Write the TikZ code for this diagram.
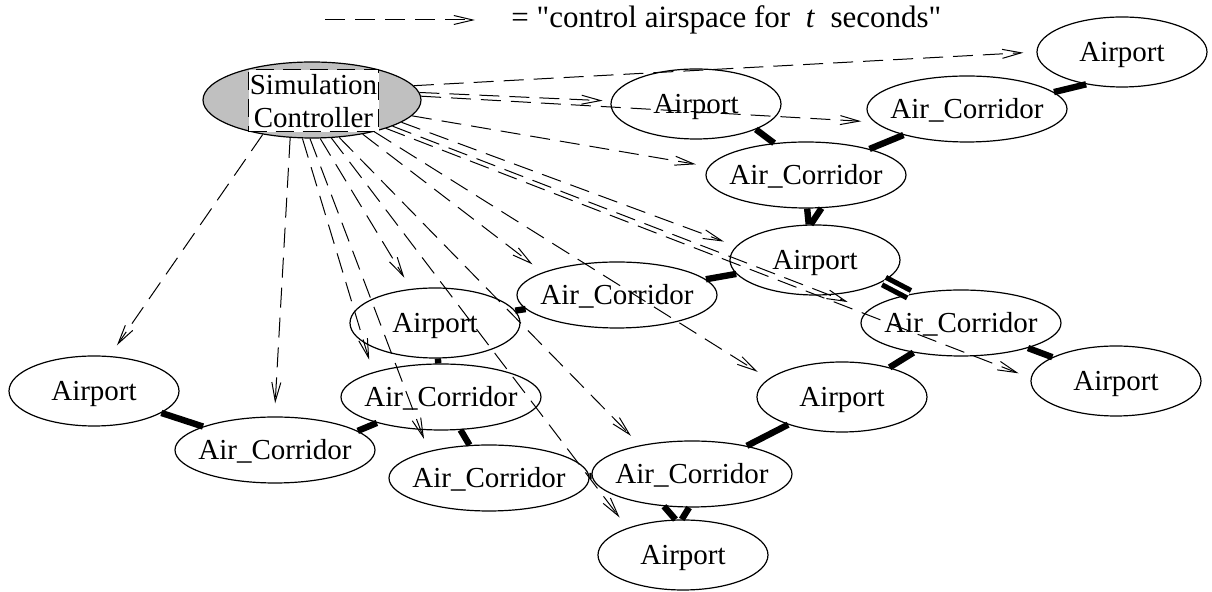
\documentclass[tikz,border=0pt]{standalone}
\usepackage{fontspec}
\setmainfont{Liberation Serif}[Ligatures=TeXOff]
\usetikzlibrary{arrows.meta,shapes.geometric}
\definecolor{ctrlgray}{RGB}{192,192,192}
% text set in a zero-width box so the ellipse keeps its own size
\newcommand{\ntx}[1]{\makebox[0pt]{#1}}
\begin{document}
\begin{tikzpicture}[x=0.5pt, y=-0.5pt,
  place/.style={ellipse, draw, line width=0.6pt, inner sep=0pt,
    text height=9.6pt, text depth=0pt, font=\fontsize{14.5}{16.5}\selectfont},
  airport/.style={place, minimum width=85pt, minimum height=35pt},
  corridor/.style={place, minimum width=100pt, minimum height=33pt},
  link/.style={line width=3.2pt},
  dbllink/.style={line width=2.6pt, double=white, double distance=1.5pt},
  ctl/.style={line width=0.5pt, dash pattern=on 10pt off 5pt,
    -{Straight Barb[length=9.5pt,width=4.5pt]}, shorten >=6.5pt},
]
\useasboundingbox (0,0) rectangle (1212,592);

% legend
\coordinate (legA) at (325,20);
\coordinate (legB) at (475,20);
\draw[ctl, shorten >=0pt] (legA) -- (legB);
\node[anchor=base west, inner sep=0pt, font=\fontsize{15.5}{17}\selectfont]
  (legtext) at (511,28) {= "control airspace for\ \ \textit{t}\ \ seconds"};

% controller
\node[ellipse, draw, line width=0.6pt, fill=ctrlgray, inner sep=0pt,
  minimum width=109pt, minimum height=38pt] (ctrl) at (312,100) {};
\node[draw, fill=white, line width=0.5pt, dash pattern=on 9pt off 4.5pt,
  minimum width=65pt, minimum height=31pt, inner sep=0.5pt, align=center,
  font=\fontsize{14.5}{16.5}\selectfont] (ctrlbox) at (313.5,101) {Simulation\\Controller};

% airports and corridors
\node[airport]  (apTR)  at (1122,52)  {\ntx{Airport}};
\node[corridor] (acTR)  at (967,109)  {\ntx{Air\_Corridor}};
\node[airport]  (apUp)  at (696,104)  {\ntx{Airport}};
\node[corridor] (acMid) at (806,175)  {\ntx{Air\_Corridor}};
\node[airport]  (apC)   at (815,260)  {\ntx{Airport}};
\node[corridor] (acR)   at (961,323)  {\ntx{Air\_Corridor}};
\node[airport]  (apFR)  at (1116,381) {\ntx{Airport}};
\node[airport]  (apML)  at (842,397)  {\ntx{Airport}};
\node[corridor] (acBC)  at (692,474)  {\ntx{Air\_Corridor}};
\node[airport]  (apB)   at (683,555)  {\ntx{Airport}};
\node[corridor] (acL2)  at (489,478)  {\ntx{Air\_Corridor}};
\node[corridor] (acMLf) at (441,397)  {\ntx{Air\_Corridor}};
\node[airport]  (apMLf) at (435,323)  {\ntx{Airport}};
\node[corridor] (acCLU) at (617,295)  {\ntx{Air\_Corridor}};
\node[airport]  (apFL)  at (94,391)   {\ntx{Airport}};
\node[corridor] (acBL)  at (275,450)  {\ntx{Air\_Corridor}};

% network links
\draw[link] (apTR.-138) -- (acTR.11);
\draw[link] (acTR) -- (acMid);
\draw[link] (apUp.-23) -- (acMid.135);
\draw[link] (acMid.-88) -- (apC.100);
\draw[link] (acMid.-65) -- (apC.97);
\draw[dbllink] (apC.-17) -- (acR.151);
\draw[link] (apC) -- (acCLU);
\draw[link] (acR) -- (apFR);
\draw[link] (acR) -- (apML);
\draw[link] (apML) -- (acBC);
\draw[link] (acBC.-131) -- (apB.102);
\draw[link] (acBC.-95) -- (apB.92);
\draw[link] (acCLU) -- (apMLf);
\draw[link] (apMLf) -- (acMLf);
\draw[link] (acMLf.-158) -- (acBL.13);
\draw[link] (acMLf) -- (acL2);
\draw[link] (apFL) -- (acBL);
\draw[link] (acL2) -- (acBC);

% control arrows
\draw[ctl] (ctrl.8) -- (apTR.180);
\draw[ctl, shorten >=4pt] (ctrl.4) -- (apUp.178);
\draw[ctl] (ctrl.2) -- (acTR.-172);
\draw[ctl] (ctrl.-9) -- (acMid.175);
\draw[ctl] (ctrl.-14) -- (apC.170);
\draw[ctl, shorten >=11pt] (ctrl.-18) -- (acR.172);
\draw[ctl] (ctrl.-21) -- (apFR.178);
\draw[ctl] (ctrl.-34) -- (acCLU.163);
\draw[ctl] (ctrl.-27) -- (apML.166);
\draw[ctl] (ctrl.-54) -- (acBC.151);
\draw[ctl] (ctrl.-63) -- (apB.154);
\draw[ctl] (ctrl.-78) -- (apMLf.125);
\draw[ctl] (ctrl.-93) -- (acL2.156);
\draw[ctl] (ctrl.-104) -- (acMLf.160);
\draw[ctl] (ctrl.-120) -- (acBL.91);
\draw[ctl] (ctrl.-145) -- (apFL.66);
\end{tikzpicture}
\end{document}
